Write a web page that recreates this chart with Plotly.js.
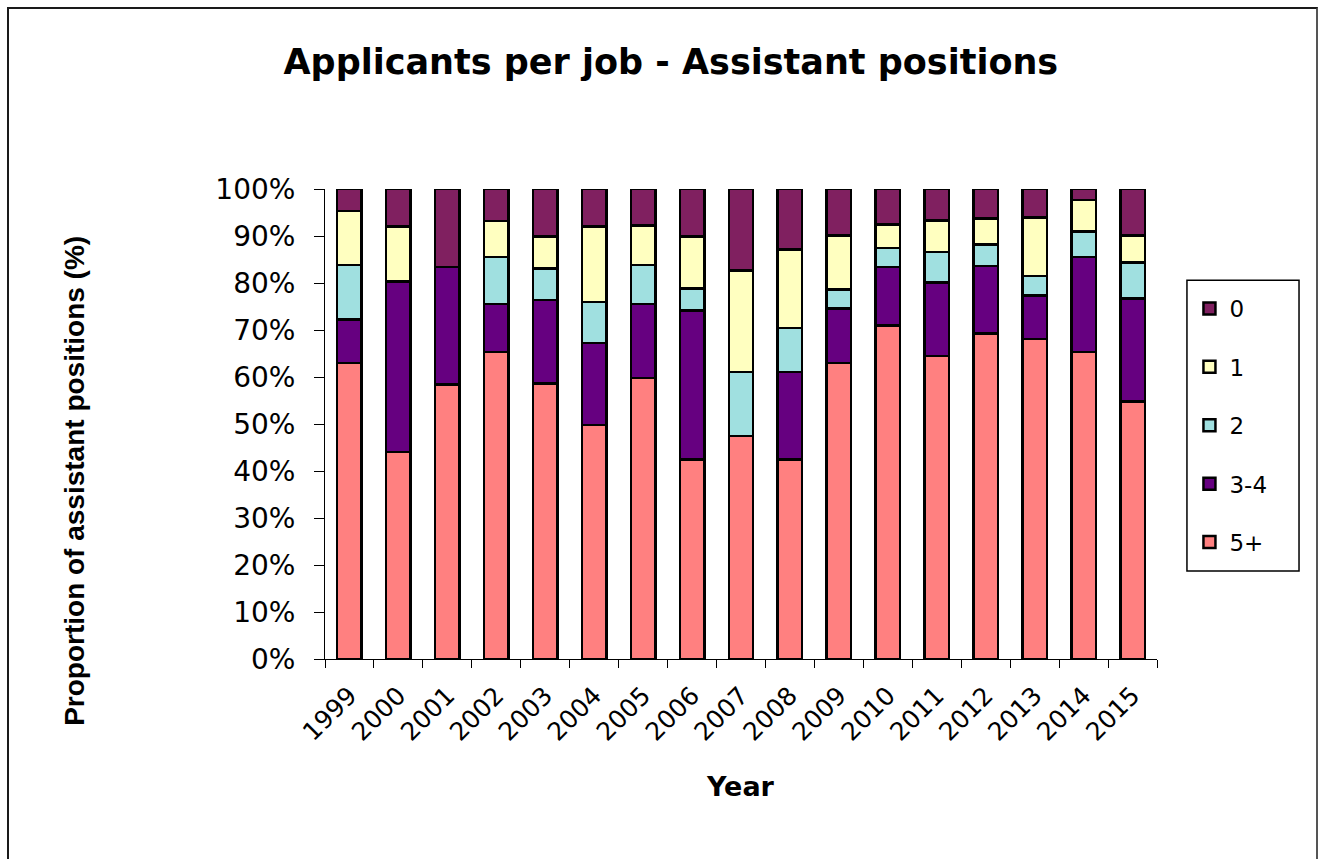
<!DOCTYPE html>
<html>
<head>
<meta charset="utf-8">
<script src="https://cdn.plot.ly/plotly-3.0.1.min.js"></script>
<style>
  html, body { margin: 0; padding: 0; background: #ffffff; }
  #chart { position: absolute; left: 0; top: 0; width: 1318px; height: 859px; }
  #frame { position: absolute; left: 7px; top: 7px; width: 1307px; height: 900px;
           border-left: 2px solid #1a1a1a; border-top: 2px solid #1a1a1a; border-right: 2px solid #555;
           pointer-events: none; }
</style>
</head>
<body>
<div id="chart"></div>
<div id="frame"></div>
<script>
const years = ['1999','2000','2001','2002','2003','2004','2005','2006','2007','2008','2009','2010','2011','2012','2013','2014','2015'];

const s5plus = [63.0, 44.0, 58.4, 65.3, 58.6, 49.8, 59.8, 42.4, 47.5, 42.4, 63.0, 71.0, 64.5, 69.3, 68.1, 65.3, 54.8];
const s3to4  = [ 9.2, 36.3, 25.0, 10.2, 17.8, 17.4, 15.7, 31.7,  0.0, 18.7, 11.6, 12.4, 15.6, 14.3,  9.2, 20.2, 21.9];
const s2     = [11.6,  0.0,  0.0, 10.0,  6.7,  8.8,  8.3,  4.7, 13.6,  9.3,  4.0,  4.0,  6.5,  4.6,  4.2,  5.5,  7.7];
const s1     = [11.5, 11.7,  0.0,  7.7,  6.8, 16.0,  8.4, 11.1, 21.6, 16.7, 11.5,  5.0,  6.7,  5.5, 12.4,  6.7,  5.7];
const s0     = [ 4.7,  8.0, 16.6,  6.8, 10.1,  8.0,  7.8, 10.1, 17.3, 12.9,  9.9,  7.6,  6.7,  6.3,  6.1,  2.3,  9.9];

const seriesNames = ['5+', '3-4', '2', '1', '0'];
const seriesValues = [s5plus, s3to4, s2, s1, s0];
const seriesColors = ['#FF8080', '#660080', '#A0E0E0', '#FFFFC0', '#802060'];
const legendRanks = [5, 4, 3, 2, 1];

const traces = seriesNames.map((name, i) => ({
  type: 'bar',
  name: name,
  x: years,
  y: seriesValues[i],
  legendgroup: 'g' + i,
  legendrank: legendRanks[i],
  marker: { color: seriesColors[i], line: { color: '#000000', width: 2.5 } },
  hoverinfo: 'x+y+name'
}));

const layout = {
  width: 1318,
  height: 859,
  barmode: 'stack',
  bargap: 0.5,
  paper_bgcolor: '#ffffff',
  plot_bgcolor: '#ffffff',
  margin: { l: 325, r: 161, t: 189, b: 200 },
  font: { family: 'DejaVu Sans, Arial, sans-serif', color: '#000000' },
  title: {
    text: '<b>Applicants per job - Assistant positions</b>',
    font: { family: 'DejaVu Sans, Arial, sans-serif', size: 35, color: '#000000' },
    xref: 'container', yref: 'container',
    x: 0.509, y: 0.928, xanchor: 'center', yanchor: 'middle'
  },
  xaxis: {
    type: 'category',
    showline: true, linecolor: '#000000', linewidth: 1,
    ticks: 'outside', ticklen: 8, tickcolor: '#000000', tickwidth: 1,
    tickson: 'boundaries',
    tickangle: -45,
    ticklabelstandoff: 11,
    tickfont: { size: 25, family: 'DejaVu Sans, Arial, sans-serif' },
    showgrid: false, zeroline: false
  },
  yaxis: {
    range: [0, 100],
    dtick: 10,
    ticksuffix: '%',
    showline: true, linecolor: '#000000', linewidth: 1,
    ticks: 'outside', ticklen: 10, tickcolor: '#000000', tickwidth: 1,
    ticklabelstandoff: 13,
    tickfont: { size: 28, family: 'DejaVu Sans, Arial, sans-serif' },
    showgrid: false, zeroline: false
  },
  legend: {
    x: 1.039, y: 0.7915, xanchor: 'left', yanchor: 'top',
    traceorder: 'grouped',
    tracegroupgap: 25.5,
    borderwidth: 0,
    bgcolor: 'rgba(0,0,0,0)',
    itemwidth: 30,
    font: { size: 23, family: 'DejaVu Sans, Arial, sans-serif' }
  },
  shapes: [
    {
      type: 'rect', xref: 'paper', yref: 'paper',
      x0: 1.036, x1: 1.1707, y0: 0.187, y1: 0.806,
      line: { color: '#000000', width: 1.5 }, fillcolor: 'rgba(0,0,0,0)'
    }
  ],
  annotations: [
    {
      text: '<b>Proportion of assistant positions (%)</b>',
      xref: 'paper', yref: 'paper', x: -0.3005, y: 0.379,
      xanchor: 'center', yanchor: 'middle', textangle: -90, showarrow: false,
      font: { family: 'Liberation Sans, Arial, sans-serif', size: 28, color: '#000000' }
    },
    {
      text: '<b>Year</b>',
      xref: 'paper', yref: 'paper', x: 0.499, y: -0.272,
      xanchor: 'center', yanchor: 'middle', showarrow: false,
      font: { family: 'DejaVu Sans, Arial, sans-serif', size: 27, color: '#000000' }
    }
  ],
  showlegend: true
};

Plotly.newPlot('chart', traces, layout, { displayModeBar: false, staticPlot: true });
</script>
</body>
</html>
